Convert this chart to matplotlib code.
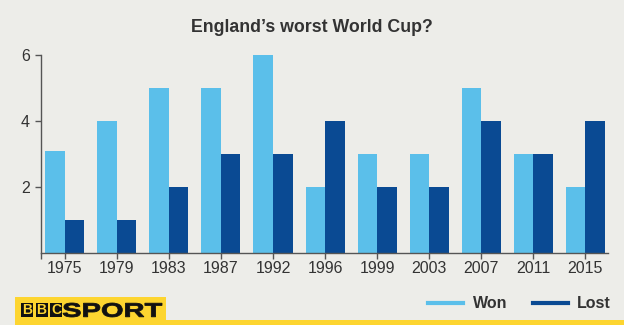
import matplotlib
matplotlib.use("Agg")
import matplotlib.pyplot as plt
from matplotlib.patches import Rectangle, PathPatch
from matplotlib.lines import Line2D
from matplotlib.textpath import TextPath
from matplotlib.font_manager import FontProperties
from matplotlib.transforms import Affine2D
import numpy as np

years = ["1975", "1979", "1983", "1987", "1992", "1996", "1999", "2003", "2007", "2011", "2015"]
won = [3.1, 4, 5, 5, 6, 2, 3, 3, 5, 3, 2]
lost = [1, 1, 2, 3, 3, 4, 2, 2, 4, 3, 4]
yticks = [2, 4, 6]

BG = "#edede9"
WON_C = "#5bbfea"
LOST_C = "#0a4a93"
AXIS_C = "#555555"
TEXT_C = "#333333"
YELLOW = "#fdd530"

plt.rcParams["font.family"] = ["Liberation Sans", "DejaVu Sans"]

W, H = 624, 325
fig = plt.figure(figsize=(W / 100, H / 100), dpi=100, facecolor=BG)

ax = fig.add_axes([41 / W, (H - 253) / H, (608 - 41) / W, (253 - 55) / H])
ax.set_facecolor(BG)

x = np.arange(len(years))
bw = 0.375
ax.bar(x, won, width=-bw, align="edge", color=WON_C, label="Won")
ax.bar(x, lost, width=bw, align="edge", color=LOST_C, label="Lost")

ax.set_xlim(-0.46, len(years) - 1 + 0.44)
ax.set_ylim(0, 6)
ax.set_xticks(x)
ax.set_xticklabels(years)
ax.set_yticks(yticks)
ax.set_yticklabels([str(v) for v in yticks])
# small tick marking the left end of the baseline
ax.set_xticks([ax.get_xlim()[0]], minor=True)

for side in ("top", "right"):
    ax.spines[side].set_visible(False)
for side in ("left", "bottom"):
    ax.spines[side].set_color(AXIS_C)
    ax.spines[side].set_linewidth(1.0)

ax.tick_params(axis="both", which="both", colors=AXIS_C, length=4, width=1.0,
               labelcolor=TEXT_C, labelsize=11.5)
ax.tick_params(axis="x", pad=2)
ax.tick_params(axis="y", pad=4)

fig.text(312 / W, 1 - 27 / H, "England\u2019s worst World Cup?", ha="center", va="center",
         fontsize=12.8, fontweight="bold", color=TEXT_C)

# legend drawn as line swatches with labels
ly = 1 - 303 / H
fig.add_artist(Line2D([428 / W, 463 / W], [ly, ly], color=WON_C, lw=3))
fig.text(473 / W, ly, "Won", ha="left", va="center", fontsize=11.5, fontweight="bold", color=TEXT_C)
fig.add_artist(Line2D([533 / W, 568 / W], [ly, ly], color=LOST_C, lw=3))
fig.text(577 / W, ly, "Lost", ha="left", va="center", fontsize=11.5, fontweight="bold", color=TEXT_C)

# footer: yellow strip and BBC SPORT mark
fig.add_artist(Rectangle((15 / W, 0), 1 - 15 / W, 5 / H, transform=fig.transFigure,
                         facecolor=YELLOW, edgecolor="none"))
fig.add_artist(Rectangle((15 / W, 0), (166 - 15) / W, (325 - 297) / H, transform=fig.transFigure,
                         facecolor=YELLOW, edgecolor="none"))
for i, letter in enumerate("BBC"):
    x0 = 21 + i * 14.5
    fig.add_artist(Rectangle((x0 / W, (325 - 317) / H), 12 / W, 14 / H, transform=fig.transFigure,
                             facecolor="#111111", edgecolor="none"))
    fig.text((x0 + 6) / W, (325 - 310) / H, letter, ha="center", va="center",
             fontsize=10, fontweight="bold", color=YELLOW)

# wide bold wordmark, stretched to its box
fp = FontProperties(family="Liberation Sans", weight="bold")
tp = TextPath((0, 0), "SPORT", size=20, prop=fp)
ext = tp.get_extents()
sx = (162 - 63) / ext.width
sy = 14 / ext.height
tr = (Affine2D().translate(-ext.x0, -ext.y0).scale(sx, sy)
      .translate(63, 325 - 317).scale(1 / W, 1 / H))
fig.add_artist(PathPatch(tr.transform_path(tp), transform=fig.transFigure,
                         facecolor="#111111", edgecolor="#111111", lw=0.6))

fig.savefig("out.png", dpi=100, facecolor=BG)
